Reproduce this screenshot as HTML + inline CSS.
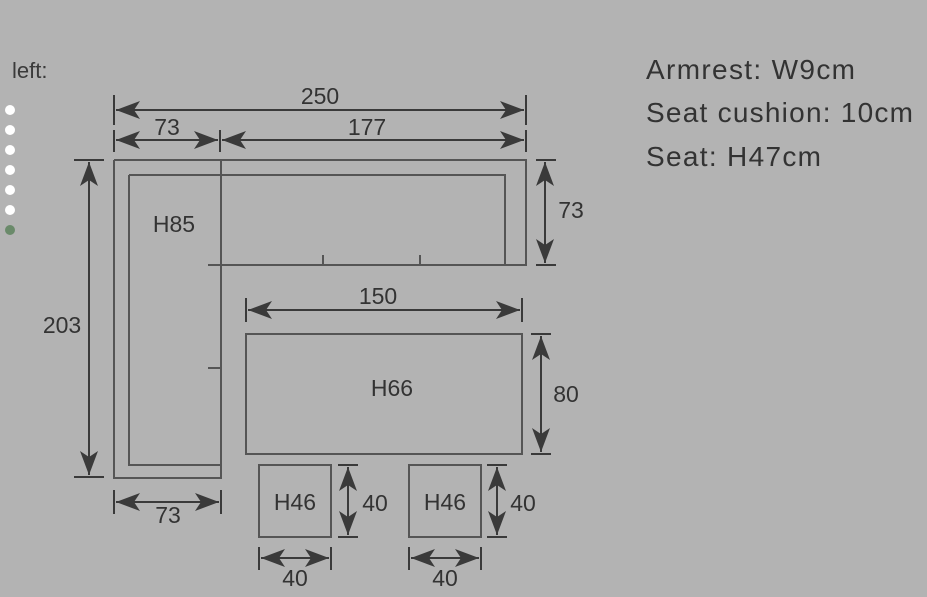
<!DOCTYPE html>
<html><head><style>
html,body{margin:0;padding:0;background:#b3b3b3;}
svg{display:block;font-family:"Liberation Sans",sans-serif;}
</style></head><body>
<svg width="927" height="597" viewBox="0 0 927 597">
<defs>
<marker id="a" markerWidth="24" markerHeight="18" refX="24" refY="9" orient="auto-start-reverse" markerUnits="userSpaceOnUse">
<path d="M0,0 L24,9 L0,18 L6,9 Z" fill="#3a3a3a"/>
</marker>
</defs>
<rect width="927" height="597" fill="#b3b3b3"/>
<text x="12" y="78" font-size="22" fill="#3a3a3a">left:</text>
<g fill="#fff"><circle cx="10" cy="110" r="5"/><circle cx="10" cy="130" r="5"/><circle cx="10" cy="150" r="5"/><circle cx="10" cy="170" r="5"/><circle cx="10" cy="190" r="5"/><circle cx="10" cy="210" r="5"/></g>
<circle cx="10" cy="230" r="5" fill="#6a8a6a"/>
<g font-size="28" fill="#333"><text x="646" y="79" textLength="209" lengthAdjust="spacing">Armrest: W9cm</text><text x="646" y="122" textLength="267" lengthAdjust="spacing">Seat cushion: 10cm</text><text x="646" y="166" textLength="175" lengthAdjust="spacing">Seat: H47cm</text></g>
<g stroke="#555" stroke-width="2" fill="none">
<path d="M114,160 H526 V265 H208 M114,160 V478 H221 V160 M129,175 H505 V265 M129,175 V465 H221"/>
<path d="M323,255 V265 M420,255 V265 M208,368 H221"/>
<rect x="246" y="334" width="276" height="120"/>
<rect x="259" y="465" width="72" height="72"/>
<rect x="409" y="465" width="72" height="72"/>
</g>
<g stroke="#3a3a3a" stroke-width="2">
<path d="M114,95 V125 M526,95 V125 M114,130 V152 M220,130 V152 M526,130 V152"/>
<line x1="116" y1="110" x2="524" y2="110" marker-start="url(#a)" marker-end="url(#a)"/>
<line x1="116" y1="140" x2="218" y2="140" marker-start="url(#a)" marker-end="url(#a)"/>
<line x1="222" y1="140" x2="524" y2="140" marker-start="url(#a)" marker-end="url(#a)"/>
<path d="M74,160 H104 M74,477 H104"/>
<line x1="89" y1="162" x2="89" y2="475" marker-start="url(#a)" marker-end="url(#a)"/>
<path d="M536,160 H556 M536,265 H556"/>
<line x1="545" y1="162" x2="545" y2="263" marker-start="url(#a)" marker-end="url(#a)"/>
<path d="M246,298 V322 M522,298 V322"/>
<line x1="248" y1="310" x2="520" y2="310" marker-start="url(#a)" marker-end="url(#a)"/>
<path d="M531,334 H551 M531,454 H551"/>
<line x1="541" y1="336" x2="541" y2="452" marker-start="url(#a)" marker-end="url(#a)"/>
<path d="M114,490 V514 M221,490 V514"/>
<line x1="116" y1="502" x2="219" y2="502" marker-start="url(#a)" marker-end="url(#a)"/>
<path d="M338,465 H358 M338,537 H358 M487,465 H507 M487,537 H507"/>
<line x1="348" y1="467" x2="348" y2="535" marker-start="url(#a)" marker-end="url(#a)"/>
<line x1="497" y1="467" x2="497" y2="535" marker-start="url(#a)" marker-end="url(#a)"/>
<path d="M259,547 V570 M331,547 V570 M409,547 V570 M481,547 V570"/>
<line x1="261" y1="558" x2="329" y2="558" marker-start="url(#a)" marker-end="url(#a)"/>
<line x1="411" y1="558" x2="479" y2="558" marker-start="url(#a)" marker-end="url(#a)"/>
</g>
<g font-size="23" fill="#333" text-anchor="middle">
<text x="320" y="104">250</text>
<text x="167" y="135">73</text>
<text x="367" y="135">177</text>
<text x="174" y="232">H85</text>
<text x="62" y="333">203</text>
<text x="571" y="218">73</text>
<text x="378" y="304">150</text>
<text x="392" y="396">H66</text>
<text x="566" y="402">80</text>
<text x="168" y="523">73</text>
<text x="295" y="510">H46</text>
<text x="445" y="510">H46</text>
<text x="375" y="511">40</text>
<text x="523" y="511">40</text>
<text x="295" y="586">40</text>
<text x="445" y="586">40</text>
</g>
</svg>
</body></html>
